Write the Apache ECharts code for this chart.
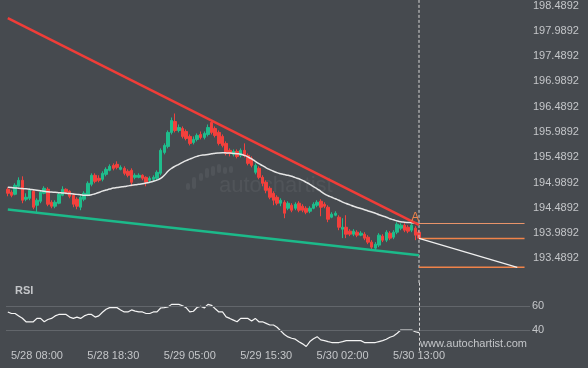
<!DOCTYPE html>
<html><head><meta charset="utf-8">
<script src="https://cdn.jsdelivr.net/npm/echarts@6/dist/echarts.min.js"></script>
<style>html,body{margin:0;padding:0;background:#464a4f;overflow:hidden}#c{width:588px;height:368px}</style>
</head><body><div id="c"></div>
<script>
// ---- data ----
const tickLabels = ['5/28 08:00','5/28 18:30','5/29 05:00','5/29 15:30','5/30 02:00','5/30 13:00'];
const tickIndex = [8, 29, 50, 71, 92, 113];
const totalSlots = 144;
const priceMin = 192.9892, priceMax = 198.4892, priceStep = 0.5;
// [open, close, low, high]
const candles = [
[194.856,194.777,194.718,194.895],[194.797,194.737,194.698,194.836],[194.757,194.935,194.737,194.974],[194.915,195.033,194.895,195.092],
[195.033,194.639,194.580,195.112],[194.659,194.698,194.619,194.777],[194.678,194.836,194.639,194.875],[194.816,194.501,194.461,194.856],
[194.540,194.639,194.402,194.678],[194.619,194.797,194.580,194.836],[194.777,194.875,194.757,194.915],[194.856,194.560,194.521,194.895],
[194.599,194.521,194.481,194.639],[194.521,194.599,194.481,194.639],[194.580,194.757,194.560,194.797],[194.737,194.856,194.718,194.915],
[194.856,194.797,194.757,194.875],[194.816,194.718,194.678,194.836],[194.737,194.560,194.501,194.777],[194.659,194.521,194.461,194.698],
[194.501,194.698,194.442,194.737],[194.659,194.777,194.619,194.816],[194.737,194.974,194.718,195.013],[194.954,195.132,194.915,195.171],
[195.132,195.013,194.974,195.171],[195.073,195.033,194.994,195.132],[195.053,195.171,195.013,195.211],[195.151,195.250,195.112,195.289],
[195.230,195.309,195.211,195.349],[195.329,195.270,195.230,195.368],[195.349,195.289,195.250,195.408],[195.250,195.289,195.230,195.329],
[195.270,195.171,195.132,195.309],[195.211,195.132,195.092,195.250],[195.230,194.994,194.915,195.270],[195.092,195.132,195.053,195.171],
[195.092,195.132,195.073,195.171],[195.132,195.073,195.033,195.151],[195.092,194.994,194.915,195.112],[195.033,195.073,194.994,195.112],
[195.053,195.092,195.013,195.132],[195.073,195.191,195.033,195.230],[195.171,195.625,195.132,195.664],[195.585,195.723,195.546,195.763],
[195.704,195.980,195.664,196.019],[195.980,196.216,195.940,196.275],[196.196,196.019,195.980,196.354],[196.019,196.078,195.980,196.137],
[196.058,195.901,195.861,196.098],[195.999,195.861,195.822,196.039],[195.901,195.763,195.723,195.940],[195.782,195.842,195.743,195.901],
[195.842,195.921,195.802,195.960],[195.940,195.881,195.842,195.999],[195.881,195.960,195.842,195.999],[195.940,196.078,195.901,196.137],
[196.177,195.980,195.940,196.216],[196.058,195.921,195.881,196.098],[195.980,195.763,195.723,196.019],[195.901,195.723,195.684,195.940],
[195.763,195.565,195.526,195.802],[195.625,195.565,195.506,195.664],[195.546,195.605,195.506,195.644],[195.605,195.506,195.467,195.644],
[195.526,195.625,195.487,195.664],[195.625,195.526,195.487,195.763],[195.526,195.368,195.329,195.565],[195.467,195.329,195.289,195.506],
[195.191,195.329,195.151,195.368],[195.270,195.092,195.053,195.309],[195.092,194.974,194.915,195.132],[194.994,194.836,194.777,195.033],
[194.875,194.698,194.659,194.915],[194.777,194.639,194.540,194.816],[194.698,194.580,194.540,194.737],[194.580,194.639,194.521,194.678],
[194.599,194.383,194.284,194.639],[194.481,194.580,194.442,194.619],[194.540,194.442,194.402,194.580],[194.481,194.560,194.442,194.599],
[194.580,194.442,194.402,194.619],[194.521,194.442,194.402,194.560],[194.481,194.402,194.363,194.521],[194.422,194.481,194.383,194.521],
[194.481,194.560,194.461,194.599],[194.540,194.599,194.501,194.639],[194.619,194.501,194.323,194.659],[194.560,194.521,194.481,194.599],
[194.501,194.264,194.205,194.540],[194.304,194.363,194.284,194.402],[194.343,194.383,194.323,194.422],[194.304,194.106,194.047,194.343],
[194.067,194.106,193.890,194.284],[194.106,193.968,193.890,194.343],[194.028,193.968,193.929,194.067],[193.968,194.028,193.929,194.067],
[194.008,193.949,193.909,194.047],[193.949,193.988,193.929,194.028],[193.968,193.890,193.850,194.008],[193.909,193.811,193.771,193.949],
[193.811,193.712,193.673,193.850],[193.692,193.771,193.653,193.811],[193.752,193.949,193.712,193.988],[193.929,193.850,193.811,193.968],
[193.850,194.008,193.811,194.047],[193.988,193.890,193.850,194.028],[193.909,194.008,193.870,194.047],[194.008,194.166,193.968,194.205],
[194.087,194.146,194.047,194.185],[194.146,194.047,194.008,194.185],[194.106,194.028,193.988,194.146],[194.047,194.146,194.008,194.185],
[194.087,193.949,193.850,194.126],[194.008,193.890,193.870,194.047]
];
const maValues = [
194.895,194.889,194.883,194.875,194.870,194.864,194.856,194.846,194.836,194.826,194.816,194.806,194.800,194.795,194.789,194.783,
194.777,194.771,194.763,194.755,194.747,194.737,194.737,194.747,194.767,194.791,194.820,194.840,194.860,194.879,194.891,194.901,
194.911,194.923,194.935,194.944,194.954,194.966,194.978,194.994,195.013,195.037,195.069,195.132,195.211,195.270,195.313,195.349,
195.388,195.422,195.451,195.481,195.506,195.526,195.534,195.544,195.556,195.569,195.575,195.577,195.575,195.571,195.565,195.559,
195.550,195.526,195.496,195.457,195.408,195.362,195.323,195.280,195.244,195.211,195.185,195.161,195.146,195.132,195.112,195.086,
195.063,195.033,194.994,194.954,194.909,194.866,194.816,194.767,194.728,194.698,194.668,194.639,194.603,194.574,194.548,194.521,
194.497,194.475,194.452,194.428,194.406,194.383,194.353,194.327,194.304,194.274,194.252,194.229,194.213,194.205,194.199,194.193,
194.185,194.176
];
const rsiValues = [
55.3,54.0,54.0,52.0,50.0,47.1,47.1,47.1,49.9,49.9,47.1,49.0,49.9,52.0,53.2,53.2,
53.2,51.0,49.9,51.0,49.9,52.0,53.2,53.2,51.0,52.0,55.0,57.5,58.9,58.9,58.9,57.0,
55.3,55.3,57.0,56.0,55.3,55.3,54.0,54.0,55.3,55.3,58.6,58.9,59.5,61.6,61.6,61.6,
60.5,58.9,55.3,55.9,59.0,60.0,58.6,61.6,60.8,58.0,55.3,55.3,51.2,49.9,48.5,47.1,
49.9,49.9,49.9,47.7,49.9,47.1,47.1,45.8,44.4,44.4,42.5,39.5,36.5,34.5,33.4,32.6,
30.5,28.7,26.5,30.6,33.0,34.7,32.0,31.4,30.5,29.8,29.8,29.8,30.5,31.4,31.4,31.4,
31.4,31.4,29.8,29.8,29.8,29.8,30.6,31.4,32.5,34.2,35.3,37.5,40.2,40.2,40.2,40.2,
38.8,38.0
];
const resistanceLine = [[0, 198.239], [113, 194.152]];
const supportLine = [[0, 194.454], [113, 193.552]];
const levelUpper = 194.179, levelEntry = 193.884, levelTarget = 193.312;
const levelStart = 113, levelEnd = 142;
const forecast = [[113, 193.884], [140, 193.312]];
const patternLabel = {text: 'A', at: [112, 194.30]};
const rsiLevels = [60, 40];
const nowIndex = 113;

// ---- chart ----
const cats = Array.from({length: totalSlots}, (_, i) => String(i));
const txt = '#c4c6c9', font = 'Arial, "Liberation Sans", sans-serif';
const GREEN = '#1fbd8c', RED = '#f2403c', ORANGE = '#f0834a';
const DASH = {color: '#d6d6d6', type: [3, 2], width: 1};
const chart = echarts.init(document.getElementById('c'), null, {renderer: 'canvas'});
chart.setOption({
  backgroundColor: '#464a4f',
  animation: false,
  textStyle: {fontFamily: font},
  grid: [
    {left: 6, right: 58, top: 4.7, height: 279},
    {left: 6, right: 58, top: 282.3, height: 68.4}
  ],
  xAxis: [
    {type: 'category', gridIndex: 0, data: cats, boundaryGap: true, show: false},
    {type: 'category', gridIndex: 1, data: cats, boundaryGap: true,
     axisLine: {show: false}, axisTick: {show: false}, splitLine: {show: false},
     axisLabel: {interval: 0, margin: 0, color: txt, fontSize: 11, fontFamily: font,
       formatter: (v, i) => { const k = tickIndex.indexOf(i); return k >= 0 ? tickLabels[k] : ''; }}}
  ],
  yAxis: [
    {type: 'value', gridIndex: 0, position: 'right', min: priceMin, max: priceMax, interval: priceStep,
     axisLine: {show: false}, axisTick: {show: false}, splitLine: {show: false},
     axisLabel: {margin: 3, color: txt, fontSize: 11, fontFamily: font, showMinLabel: false,
       formatter: v => (priceMin + Math.round((v - priceMin) / priceStep) * priceStep).toFixed(4)}},
    {type: 'value', gridIndex: 1, min: 23, max: 80, show: false}
  ],
  graphic: [
    {type: 'group', silent: true, children: [
      {type: 'rect', shape: {x: 186, y: 183, width: 4, height: 7, r: 2}, style: {fill: 'rgba(255,255,255,0.06)'}},
      {type: 'rect', shape: {x: 192, y: 177, width: 4, height: 12, r: 2}, style: {fill: 'rgba(255,255,255,0.06)'}},
      {type: 'rect', shape: {x: 199, y: 173, width: 4, height: 8, r: 2}, style: {fill: 'rgba(255,255,255,0.06)'}},
      {type: 'rect', shape: {x: 205, y: 168, width: 4, height: 10, r: 2}, style: {fill: 'rgba(255,255,255,0.06)'}},
      {type: 'rect', shape: {x: 211, y: 166, width: 4, height: 10, r: 2}, style: {fill: 'rgba(255,255,255,0.06)'}},
      {type: 'rect', shape: {x: 217, y: 164, width: 4, height: 9, r: 2}, style: {fill: 'rgba(255,255,255,0.06)'}},
      {type: 'rect', shape: {x: 223, y: 167, width: 4, height: 7, r: 2}, style: {fill: 'rgba(255,255,255,0.06)'}},
      {type: 'rect', shape: {x: 229, y: 166, width: 4, height: 7, r: 2}, style: {fill: 'rgba(255,255,255,0.06)'}},
      {type: 'text', x: 219, y: 175, style: {text: 'autochartist', fill: 'rgba(255,255,255,0.06)', font: '22px ' + font}}
    ]},
    {type: 'text', left: 15, top: 285, style: {text: 'RSI', fill: txt, font: 'bold 11px ' + font}},
    {type: 'text', left: 420, top: 338, style: {text: 'www.autochartist.com', fill: txt, font: '11px ' + font}}
  ],
  series: [
    {type: 'line', xAxisIndex: 0, yAxisIndex: 0, clip: false, symbol: 'none', silent: true,
     data: [[nowIndex, 198.60], [nowIndex, priceMin]], lineStyle: DASH},
    {type: 'candlestick', xAxisIndex: 0, yAxisIndex: 0, data: candles, barWidth: 3,
     itemStyle: {color: GREEN, color0: RED, borderColor: GREEN, borderColor0: RED, borderWidth: 1}},
    {type: 'line', xAxisIndex: 0, yAxisIndex: 0, data: maValues, symbol: 'none', smooth: true,
     lineStyle: {color: '#e6e6e6', width: 1.5}},
    {type: 'line', xAxisIndex: 0, yAxisIndex: 0, data: resistanceLine, symbol: 'none',
     lineStyle: {color: '#f03d38', width: 2.5}},
    {type: 'line', xAxisIndex: 0, yAxisIndex: 0, data: supportLine, symbol: 'none',
     lineStyle: {color: '#1cba8a', width: 2.5}},
    {type: 'line', xAxisIndex: 0, yAxisIndex: 0, data: [[levelStart, levelUpper], [levelEnd, levelUpper]], symbol: 'none',
     lineStyle: {color: '#e8946a', width: 1},
     markPoint: {symbol: 'circle', symbolSize: 1, itemStyle: {color: 'rgba(0,0,0,0)'},
       label: {show: true, position: 'inside', formatter: patternLabel.text, color: ORANGE, fontSize: 12, fontFamily: font},
       data: [{coord: patternLabel.at}]}},
    {type: 'line', xAxisIndex: 0, yAxisIndex: 0, data: [[levelStart, levelEntry], [levelEnd, levelEntry]], symbol: 'none',
     lineStyle: {color: ORANGE, width: 1.5}},
    {type: 'line', xAxisIndex: 0, yAxisIndex: 0, data: [[levelStart, levelTarget], [levelEnd, levelTarget]], symbol: 'none', clip: false,
     lineStyle: {color: ORANGE, width: 1.5}},
    {type: 'line', xAxisIndex: 0, yAxisIndex: 0, data: [], symbol: 'none',
     markLine: {silent: true, symbol: ['none', 'arrow'], symbolSize: [0, 9], label: {show: false},
       lineStyle: {color: '#f0f0f0', width: 1.2, type: 'solid'},
       data: [[{coord: forecast[0]}, {coord: forecast[1]}]]}},
    {type: 'line', xAxisIndex: 1, yAxisIndex: 1, data: rsiValues, symbol: 'none',
     lineStyle: {color: '#f4f4f4', width: 1.2},
     markLine: {silent: true, symbol: 'none',
       lineStyle: {color: '#62666b', width: 1, type: 'solid'},
       label: {show: true, position: 'end', distance: 2, color: txt, fontSize: 11, fontFamily: font},
       data: rsiLevels.map(v => ({yAxis: v}))}},
    {type: 'line', xAxisIndex: 1, yAxisIndex: 1, data: [], symbol: 'none',
     markLine: {silent: true, symbol: 'none', label: {show: false}, lineStyle: DASH, data: [{xAxis: nowIndex}]}}
  ]
});
</script></body></html>
